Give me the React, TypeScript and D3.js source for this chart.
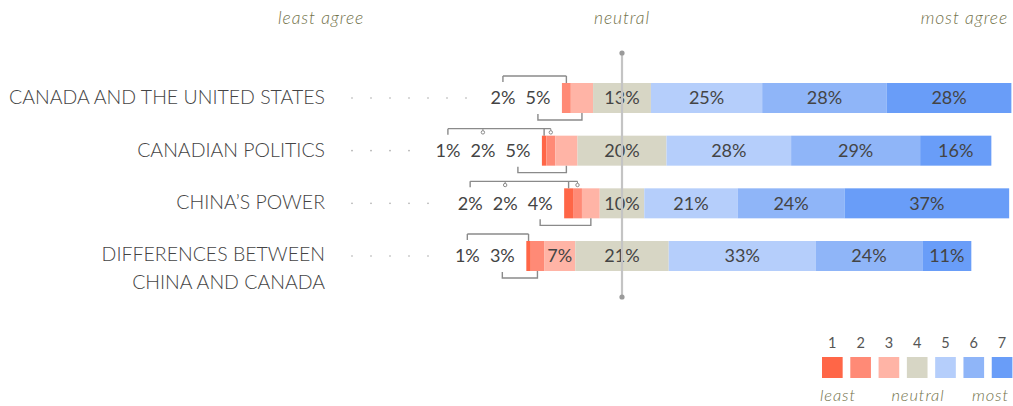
import React from "react";
import * as d3 from "d3";

const categoryLines: string[][] = [
  ["CANADA AND THE UNITED STATES"],
  ["CANADIAN POLITICS"],
  ["CHINA’S POWER"],
  ["DIFFERENCES BETWEEN", "CHINA AND CANADA"],
];

// share of answers on each of the 7 scale points, per category (%)
const level1 = [0, 1, 2, 1];
const level2 = [2, 2, 2, 3];
const level3 = [5, 5, 4, 7];
const level4 = [13, 20, 10, 21];
const level5 = [25, 28, 21, 33];
const level6 = [28, 29, 24, 24];
const level7 = [28, 16, 37, 11];

const scaleLabels = ["1", "2", "3", "4", "5", "6", "7"];
const colors = ["#ff6647", "#ff8a76", "#ffb4a6", "#d7d6c5", "#b5cefb", "#8fb5f8", "#699df8"];
const headerLabels = ["least agree", "neutral", "most agree"];
const legendEndLabels = ["least", "neutral", "most"];

const W = 1013;
const H = 406;
const CENTER = 622;
const BAR_H = 30;
const TEXT = "#444";
const OLIVE = "#72724a";
const BRACKET = "#8a8a8a";
const FONT = "Lato, 'Open Sans', sans-serif";

export default function App() {
  const levels = [level1, level2, level3, level4, level5, level6, level7];
  const rows = categoryLines.map((lines, i) => ({
    lines,
    values: levels.map((l) => l[i]),
  }));

  // pixels per percentage point, offset from the neutral centre
  const x = d3.scaleLinear().domain([0, 100]).range([CENTER, CENTER + 445]);
  const k = x(1) - x(0);
  const y = d3
    .scalePoint<number>()
    .domain(rows.map((_, i) => i))
    .range([98, 256]);

  const legendX = d3
    .scaleBand<string>()
    .domain(scaleLabels)
    .range([822, 822 + 27.2 * 7])
    .paddingInner(0.27)
    .paddingOuter(0);

  return (
    <div style={{ position: "absolute", left: 0, top: 0 }}>
      <svg width={W} height={H} style={{ display: "block", fontFamily: FONT }}>
        {/* header */}
        <g fontStyle="italic" fontSize={17.5} fill={OLIVE} fontWeight={300} letterSpacing={0.9}>
          <text x={278} y={24}>{headerLabels[0]}</text>
          <text x={CENTER} y={24} textAnchor="middle">{headerLabels[1]}</text>
          <text x={1008} y={24} textAnchor="end">{headerLabels[2]}</text>
        </g>

        {rows.map((row, ri) => {
          const cy = y(ri)!;
          const top = cy - BAR_H / 2;
          const bottom = cy + BAR_H / 2;
          const v = row.values;
          const offset = v[0] + v[1] + v[2] + v[3] / 2;
          let cum = -offset;
          const segs = v.map((val, si) => {
            const x0 = x(cum);
            cum += val;
            const x1 = x(cum);
            return { val, si, x0, x1, mid: (x0 + x1) / 2 };
          });
          const barStart = segs[0].x0;
          const outside = segs.filter((s) => s.si < 3 && s.val > 0 && s.val * k < 28);
          const n = outside.length;
          const labelPos = outside.map((_, i) => barStart - 24 - 35 * (n - 1 - i));
          const firstLabel = n > 0 ? labelPos[0] : barStart;
          const dots: number[] = [];
          for (let dx = 352; dx < firstLabel - 25; dx += 19) dots.push(dx);

          const topIdx = outside.map((_, i) => i).filter((i) => i < n - 1);
          const botIdx = n > 0 ? [n - 1] : [];
          const topY = top - 7;
          const botY = bottom + 7;
          const multi = row.lines.length > 1;

          return (
            <g key={ri}>
              {/* category label */}
              <g fontSize={19.5} fill={TEXT} fontWeight={300} textAnchor="end">
                {row.lines.map((ln, li) => (
                  <text key={li} x={325} y={multi ? cy + 5 + li * 28 : cy + 6}>
                    {ln}
                  </text>
                ))}
              </g>
              {/* leader dots */}
              {dots.map((dx, di) => (
                <circle key={di} cx={dx} cy={cy} r={0.8} fill="#a8a8a8" />
              ))}
              {/* bars */}
              {segs.map((s) =>
                s.val > 0 ? (
                  <rect key={s.si} x={s.x0} y={top} width={s.x1 - s.x0} height={BAR_H} fill={colors[s.si]} />
                ) : null
              )}
              {/* value labels */}
              <g fontSize={18} fill={TEXT} fontWeight={400} textAnchor="middle">
                {segs
                  .filter((s) => s.val > 0 && s.val * k >= 28)
                  .map((s) => (
                    <text key={s.si} x={s.mid} y={cy} dy="0.36em">
                      {s.val}%
                    </text>
                  ))}
                {outside.map((s, i) => (
                  <text key={"o" + i} x={labelPos[i]} y={cy} dy="0.36em">
                    {s.val}%
                  </text>
                ))}
              </g>
              {/* brackets */}
              <g stroke={BRACKET} strokeWidth={1.4} fill="none">
                {topIdx.length > 0 && (
                  <>
                    <line
                      x1={labelPos[topIdx[0]]}
                      x2={outside[topIdx[topIdx.length - 1]].mid}
                      y1={topY}
                      y2={topY}
                    />
                    {topIdx.map((i, j) =>
                      j === 0 ? (
                        <g key={i}>
                          <line x1={labelPos[i]} x2={labelPos[i]} y1={topY} y2={topY + 6} />
                          <line x1={outside[i].mid} x2={outside[i].mid} y1={topY} y2={top} />
                        </g>
                      ) : (
                        <g key={i} strokeWidth={1}>
                          <line x1={labelPos[i]} x2={labelPos[i]} y1={topY} y2={topY + 2} />
                          <circle cx={labelPos[i]} cy={topY + 3.7} r={1.7} fill="#fff" />
                          <line x1={outside[i].mid} x2={outside[i].mid} y1={topY} y2={topY + 2} />
                          <circle cx={outside[i].mid} cy={topY + 3.7} r={1.7} fill="#fff" />
                        </g>
                      )
                    )}
                  </>
                )}
                {botIdx.map((i) => (
                  <path
                    key={i}
                    d={`M${labelPos[i]},${botY - 6}V${botY}H${outside[i].mid}V${bottom}`}
                  />
                ))}
              </g>
            </g>
          );
        })}

        {/* neutral line */}
        <line x1={CENTER} x2={CENTER} y1={53} y2={297} stroke="#c4c4c4" strokeWidth={2.2} />
        <circle cx={CENTER} cy={53} r={2.6} fill="#9a9a9a" />
        <circle cx={CENTER} cy={297} r={2.6} fill="#9a9a9a" />

        {/* legend */}
        <g>
          {scaleLabels.map((lab, i) => (
            <g key={lab}>
              <text
                x={legendX(lab)! + legendX.bandwidth() / 2}
                y={348}
                textAnchor="middle"
                fontSize={14.5}
                fill="#555"
                fontWeight={400}
              >
                {lab}
              </text>
              <rect x={legendX(lab)!} y={357} width={legendX.bandwidth()} height={21} fill={colors[i]} />
            </g>
          ))}
          <g fontStyle="italic" fontSize={16.5} fill={OLIVE} fontWeight={300} letterSpacing={0.9}>
            <text x={820} y={401}>{legendEndLabels[0]}</text>
            <text x={918} y={401} textAnchor="middle">{legendEndLabels[1]}</text>
            <text x={1009} y={401} textAnchor="end">{legendEndLabels[2]}</text>
          </g>
        </g>
      </svg>
    </div>
  );
}
